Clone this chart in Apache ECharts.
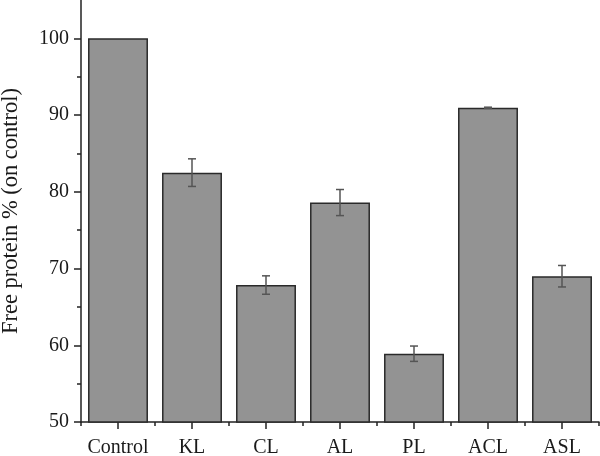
<!DOCTYPE html>
<html><head><meta charset="utf-8">
<script src="https://cdn.jsdelivr.net/npm/echarts@6/dist/echarts.min.js"></script>
<style>html,body{margin:0;padding:0;background:#fff}#c{width:600px;height:456px}</style>
</head><body><div id="c"></div>
<script>
const categories = ['Control','KL','CL','AL','PL','ACL','ASL'];
const values = [100, 82.5, 67.85, 78.6, 58.9, 90.95, 69.0];
const errors = [0, 1.8, 1.2, 1.7, 1.0, 0.08, 1.4];
const yMajorTicks = [50, 60, 70, 80, 90, 100];
const yMinorTicks = [55, 65, 75, 85, 95];

const font = 'Liberation Serif';
const chart = echarts.init(document.getElementById('c'), null, {renderer:'canvas'});
chart.setOption({
  animation: false,
  grid: {left: 81, right: 1, top: 0, bottom: 34, containLabel: false, outerBoundsMode: 'none'},
  xAxis: [{
    type: 'category', data: categories,
    axisLine: {lineStyle: {color: '#222', width: 1.5}},
    axisTick: {show: true, interval: 0, alignWithLabel: true, length: 7, lineStyle: {color: '#222', width: 1.5}},
    axisLabel: {interval: 0, fontFamily: font, fontSize: 20, color: '#1a1a1a', margin: 16}
  },{
    type: 'category', data: categories, position: 'bottom',
    axisLine: {show: false},
    axisTick: {show: true, interval: 0, alignWithLabel: false, length: 4, lineStyle: {color: '#222', width: 1.5}},
    axisLabel: {show: false}
  }],
  yAxis: [{
    type: 'value', min: 50, max: 105, interval: 5,
    name: 'Free protein % (on control)', nameLocation: 'middle', nameGap: 58, nameRotate: 90,
    nameTextStyle: {fontFamily: font, fontSize: 22.5, color: '#1a1a1a'},
    axisLine: {show: true, lineStyle: {color: '#222', width: 1.5}},
    axisTick: {show: true, length: 7, customValues: yMajorTicks, lineStyle: {color: '#222', width: 1.5}},
    axisLabel: {customValues: yMajorTicks, fontFamily: font, fontSize: 20, color: '#1a1a1a', margin: 12},
    splitLine: {show: false}
  },{
    type: 'value', min: 50, max: 105, interval: 5, position: 'left',
    axisLine: {show: false},
    axisTick: {show: true, length: 4, customValues: yMinorTicks, lineStyle: {color: '#222', width: 1.5}},
    axisLabel: {show: false},
    splitLine: {show: false}
  }],
  series: [{
    type: 'bar', data: values, barWidth: '81%',
    itemStyle: {color: '#939393', borderColor: '#2a2a2a', borderWidth: 1.5}
  },{
    type: 'custom',
    data: categories.map((c, i) => [i, values[i], errors[i]]),
    renderItem: function(params, api) {
      const i = api.value(0), v = api.value(1), e = api.value(2);
      if (!e) return null;
      const hi = api.coord([i, v + e]);
      const lo = api.coord([i, v - e]);
      const hw = 4;
      const st = {stroke: '#555', lineWidth: 1.5};
      return {type: 'group', children: [
        {type: 'line', shape: {x1: hi[0], y1: hi[1], x2: lo[0], y2: lo[1]}, style: st},
        {type: 'line', shape: {x1: hi[0]-hw, y1: hi[1], x2: hi[0]+hw, y2: hi[1]}, style: st},
        {type: 'line', shape: {x1: lo[0]-hw, y1: lo[1], x2: lo[0]+hw, y2: lo[1]}, style: st}
      ]};
    },
    z: 5
  }]
});
</script></body></html>
